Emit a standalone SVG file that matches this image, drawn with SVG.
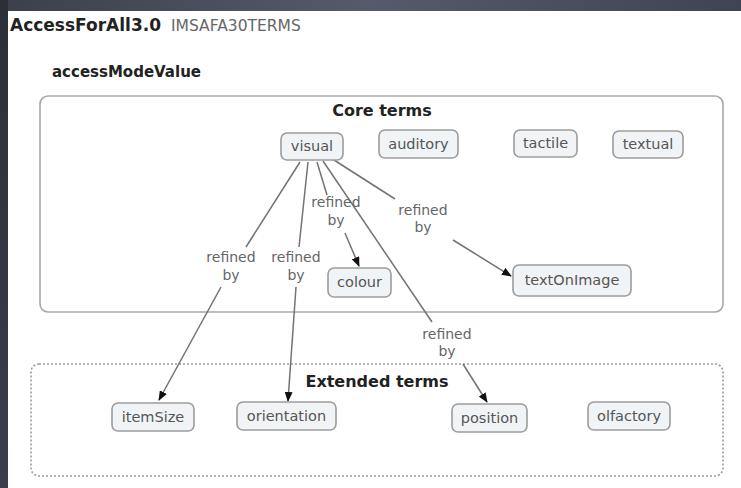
<svg xmlns="http://www.w3.org/2000/svg" width="741" height="488" viewBox="0 0 741 488">
  <defs>
    <linearGradient id="topband" x1="0" y1="0" x2="1" y2="0">
      <stop offset="0" stop-color="#3c404c"/>
      <stop offset="0.5" stop-color="#555b6a"/>
      <stop offset="1" stop-color="#3e4452"/>
    </linearGradient>
    <linearGradient id="sideband" x1="0" y1="0" x2="0" y2="1">
      <stop offset="0" stop-color="#2c2f38"/>
      <stop offset="1" stop-color="#3a3e4c"/>
    </linearGradient>
    <marker id="arrow" markerWidth="10" markerHeight="8" refX="9" refY="4" orient="auto" markerUnits="userSpaceOnUse">
      <path d="M0,0 L10,4 L0,8 Z" fill="#111"/>
    </marker>
    <style>
      .title { font-family: "DejaVu Sans", Verdana, sans-serif; font-weight: bold; fill: #222; }
      .sub { font-family: "DejaVu Sans", Verdana, sans-serif; fill: #666; }
      .box { fill: #ffffff; stroke: #a8a8a8; stroke-width: 1.6; }
      .dash { fill: none; stroke: #9a9a9a; stroke-width: 1.6; stroke-dasharray: 2 2; }
      .node rect { fill: #f1f4f7; stroke: #9c9c9c; stroke-width: 1.6; }
      .node text { font-family: "DejaVu Sans", Verdana, sans-serif; font-size: 14.5px; fill: #555; text-anchor: middle; }
      .edge { fill: none; stroke: #727272; stroke-width: 1.5; }
      .lbl { font-family: "DejaVu Sans", Verdana, sans-serif; font-size: 14px; fill: #666; text-anchor: middle; }
    </style>
  </defs>

  <!-- window chrome and white canvas -->
  <rect x="0" y="0" width="741" height="488" fill="#ffffff"/>
  <rect x="0" y="0" width="741" height="11" fill="url(#topband)"/>
  <rect x="0" y="0" width="8" height="488" fill="url(#sideband)"/>

  <!-- headings -->
  <text class="title" x="10" y="31" font-size="17">AccessForAll3.0</text>
  <text class="sub" x="171" y="31" font-size="15.5">IMSAFA30TERMS</text>
  <text class="title" x="52" y="77" font-size="15">accessModeValue</text>

  <!-- term groups -->
  <g id="core-terms">
    <rect class="box" x="40" y="96" width="683" height="216" rx="8"/>
    <text class="title" x="382" y="116" font-size="16" text-anchor="middle">Core terms</text>
  </g>
  <g id="extended-terms">
    <rect class="dash" x="31" y="364" width="692" height="112" rx="8"/>
    <text class="title" x="377" y="387" font-size="16" text-anchor="middle">Extended terms</text>
  </g>

  <!-- connectors -->
  <g id="connectors">
    <path class="edge" d="M300,162 L246,247"/>
    <path class="edge" d="M221,287 L159,400" marker-end="url(#arrow)"/>
    <path class="edge" d="M308,162 L299,247"/>
    <path class="edge" d="M296,287 L288,401" marker-end="url(#arrow)"/>
    <path class="edge" d="M317,162 L327,195"/>
    <path class="edge" d="M345,233 L359,266" marker-end="url(#arrow)"/>
    <path class="edge" d="M323,161 L432,322"/>
    <path class="edge" d="M463,364 L487,402" marker-end="url(#arrow)"/>
    <path class="edge" d="M334,160 L395,199"/>
    <path class="edge" d="M453,240 L511,276" marker-end="url(#arrow)"/>
    <text class="lbl" x="231" y="262">refined</text>
    <text class="lbl" x="231" y="280">by</text>
    <text class="lbl" x="296" y="262">refined</text>
    <text class="lbl" x="296" y="280">by</text>
    <text class="lbl" x="336" y="207">refined</text>
    <text class="lbl" x="336" y="225">by</text>
    <text class="lbl" x="423" y="215">refined</text>
    <text class="lbl" x="423" y="232">by</text>
    <text class="lbl" x="447" y="339">refined</text>
    <text class="lbl" x="447" y="356">by</text>
  </g>

  <!-- nodes -->
  <g id="visual" class="node"><rect x="281" y="133" width="62" height="27" rx="6"/><text x="312" y="151">visual</text></g>
  <g id="auditory" class="node"><rect x="379" y="130" width="79" height="28" rx="6"/><text x="418.5" y="149">auditory</text></g>
  <g id="tactile" class="node"><rect x="514" y="130" width="63" height="27" rx="6"/><text x="545.5" y="148">tactile</text></g>
  <g id="textual" class="node"><rect x="613" y="131" width="70" height="27" rx="6"/><text x="648" y="149">textual</text></g>
  <g id="colour" class="node"><rect x="328" y="268" width="63" height="29" rx="6"/><text x="359.5" y="287">colour</text></g>
  <g id="textOnImage" class="node"><rect x="513" y="265" width="118" height="31" rx="6"/><text x="572" y="285">textOnImage</text></g>
  <g id="itemSize" class="node"><rect x="112" y="403" width="82" height="28" rx="6"/><text x="153" y="422">itemSize</text></g>
  <g id="orientation" class="node"><rect x="237" y="402" width="99" height="28" rx="6"/><text x="286.5" y="421">orientation</text></g>
  <g id="position" class="node"><rect x="452" y="404" width="75" height="28" rx="6"/><text x="489.5" y="423">position</text></g>
  <g id="olfactory" class="node"><rect x="588" y="402" width="82" height="28" rx="6"/><text x="629" y="421">olfactory</text></g>
</svg>
